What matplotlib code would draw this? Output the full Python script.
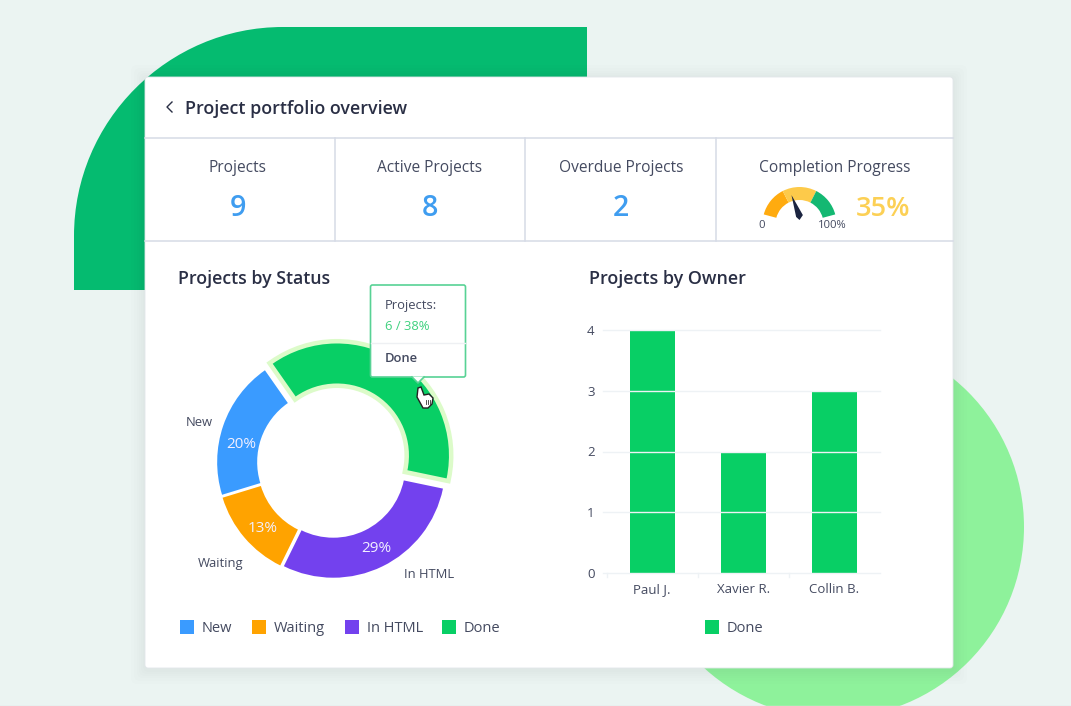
#!/usr/bin/python3

from matplotlib import pyplot as plt
from matplotlib.patches import Circle, FancyBboxPatch, PathPatch, Polygon, Rectangle, Wedge
from matplotlib.path import Path
import numpy as np

plt.rcParams['font.family'] = ['Open Sans', 'DejaVu Sans']

W, H = 1071, 706

kpi_labels = ['Projects', 'Active Projects', 'Overdue Projects']
kpi_values = ['9', '8', '2']
gauge_value = 35

status_labels = ['New', 'Waiting', 'In HTML', 'Done']
status_values = [20, 13, 29, 38]
status_colors = ['#3a9bff', '#ffa300', '#7341ee', '#08cf65']

owners = ['Paul J.', 'Xavier R.', 'Collin B.']
owner_done = [4, 2, 3]
owner_ticks = [0, 1, 2, 3, 4]

DARK = '#444a60'
TITLE = '#2a2f45'
LINE = '#d6dbe6'
GREEN = '#08cf65'


def px_axes(fig, x0, y0, x1, y1, **kw):
  # axes placed with pixel coordinates measured from the top left corner
  return fig.add_axes([x0 / W, 1 - y1 / H, (x1 - x0) / W, (y1 - y0) / H], **kw)


fig = plt.figure(figsize=(W / 100, H / 100), dpi=100, facecolor='#ebf4f2')

# background shapes and card
bg = px_axes(fig, 0, 0, W, H, zorder=0)
bg.set_xlim(0, W)
bg.set_ylim(H, 0)
bg.axis('off')

r, k = 209, 115
verts = [(74, 290), (74, 27 + r), (74, 27 + r - k), (74 + r - k, 27), (74 + r, 27), (587, 27), (587, 290), (74, 290)]
codes = [Path.MOVETO, Path.LINETO, Path.CURVE4, Path.CURVE4, Path.CURVE4, Path.LINETO, Path.LINETO, Path.CLOSEPOLY]
bg.add_patch(PathPatch(Path(verts, codes), fc='#05bb70', ec='none'))
bg.add_patch(Circle((833, 527), 191, fc='#8ef29b', ec='none'))
bg.plot([0, W], [705.5, 705.5], color='#dfe3e6', lw=1)

for grow in [14, 11, 8, 6, 4, 2]:
  bg.add_patch(FancyBboxPatch((145 - grow, 77 - grow + 2), 808 + 2 * grow, 591 + 2 * grow,
                              boxstyle='round,pad=0,rounding_size=6', fc='#1a2a40', ec='none', alpha=0.008))
bg.add_patch(FancyBboxPatch((145, 77), 808, 591, boxstyle='round,pad=0,rounding_size=3', fc='white', ec='#e2e6ea', lw=0.6))

bg.plot([145, 953], [138, 138], color=LINE, lw=1.1)
bg.plot([145, 953], [241, 241], color=LINE, lw=1.1)
for x in [335, 525, 716]:
  bg.plot([x, x], [138, 241], color=LINE, lw=1.1)

# donut, data units are pixels here
ax = px_axes(fig, 192, 323, 472, 603, zorder=1)
ax.set_facecolor('none')
explode = [3, 3, 3, 9]
wedges, _ = ax.pie(status_values, colors=status_colors, startangle=125, explode=explode, radius=112,
                   wedgeprops={'width': 40, 'linewidth': 0})
done = wedges[3]
ax.add_patch(Wedge(done.center, done.r, done.theta1, done.theta2, width=40, fc='#dcfbc9', ec='#dcfbc9',
                   lw=6.5, zorder=done.get_zorder() - 0.5))
ax.set_xlim(-140, 140)
ax.set_ylim(-140, 140)
ax.set_aspect('equal')
ax.axis('off')

# bars
bx = px_axes(fig, 603, 330, 880, 573, zorder=1)
bx.set_facecolor('none')
bx.bar(range(len(owners)), owner_done, width=0.495, color=GREEN, zorder=2)
bx.set_xlim(-0.54, 2.5)
bx.set_ylim(0, 4)
bx.set_yticks(owner_ticks)
bx.set_xticks(range(len(owners)))
bx.set_xticklabels(owners)
bx.tick_params(axis='both', length=0, labelsize=9.5, labelcolor=DARK)
bx.tick_params(axis='x', pad=7)
bx.tick_params(axis='y', pad=6)
for y in owner_ticks:
  bx.axhline(y, color='#eef2f5', lw=1, zorder=3, clip_on=False)
for s in bx.spines.values():
  s.set_visible(False)
for x in [-0.5, 0.5, 1.5]:
  bx.plot([x, x], [0, -0.06], color='#eef2f5', lw=1, clip_on=False)

# top layer for text and tooltip
top = px_axes(fig, 0, 0, W, H, zorder=2)
top.set_xlim(0, W)
top.set_ylim(H, 0)
top.axis('off')
top.patch.set_alpha(0)

top.plot([172, 167, 172], [102, 107, 112], color=TITLE, lw=1)
top.text(185, 109, 'Project portfolio overview', fontsize=12.85, fontweight=600, color=TITLE, va='center')
top.text(178, 279, 'Projects by Status', fontsize=12.8, fontweight=600, color=TITLE, va='center')
top.text(589, 279, 'Projects by Owner', fontsize=12.85, fontweight=600, color=TITLE, va='center')

for cx, label, value in zip([238, 430, 621], kpi_labels, kpi_values):
  top.text(cx, 168, label, fontsize=11.2, color=DARK, ha='center', va='center')
  top.text(cx, 209, value, fontsize=20.5, fontweight=600, color='#3f9df0', ha='center', va='center')
top.text(835, 168, 'Completion Progress', fontsize=11.2, color=DARK, ha='center', va='center')

# gauge, angles are flipped since the y axis points down
gc = (799.5, 224)
for a0, a1, col in [(165, 117, '#ffab0f'), (117, 63, '#fdca4a'), (63, 15, '#14b872')]:
  top.add_patch(Wedge(gc, 37, -a0, -a1, width=13, fc=col, ec='none'))
ang = np.radians(165 - gauge_value * 1.7)
tip = (gc[0] + 30 * np.cos(ang), gc[1] - 30 * np.sin(ang))
nx, ny = np.sin(ang), np.cos(ang)
top.add_patch(Polygon([tip, (gc[0] + 3.5 * nx, gc[1] - 8 + 3.5 * ny), (gc[0], gc[1] - 4),
                       (gc[0] - 3.5 * nx, gc[1] - 8 - 3.5 * ny)], fc='#1b2440', ec='none'))
top.text(762, 226, '0', fontsize=8.1, color=DARK, ha='center', va='center')
top.text(832.5, 226, '100%', fontsize=8.1, color=DARK, ha='center', va='center')
top.text(883, 209, f'{gauge_value}%', fontsize=19.5, fontweight=600, color='#fcd055', ha='center', va='center')

# donut texts
for (x, y), v in zip([(241, 445), (263, 529), (376, 549)], status_values[:3]):
  top.text(x, y, f'{v}%', fontsize=11, color='#f2f0ff', ha='center', va='center')
for (x, y), s in zip([(199, 423), (221, 564), (429, 574)], status_labels[:3]):
  top.text(x, y, s, fontsize=9.4, color=DARK, ha='center', va='center')

# legends
for x, s, c in zip([187, 259, 352, 449], status_labels, status_colors):
  top.add_patch(Rectangle((x - 7, 620), 14, 14, fc=c, ec='none'))
  top.text(x + 15, 629, s, fontsize=10.5, color=DARK, va='center')
top.add_patch(Rectangle((705, 620), 14, 14, fc=GREEN, ec='none'))
top.text(727, 629, status_labels[3], fontsize=10.5, color=DARK, va='center')

# tooltip
top.add_patch(FancyBboxPatch((370.5, 285), 95, 92, boxstyle='round,pad=0,rounding_size=2',
                             fc='white', ec='#58d295', lw=1.2, zorder=5))
top.add_patch(Polygon([(412, 376.5), (424, 376.5), (418, 383)], fc='white', ec='none', zorder=6))
top.plot([412, 418, 424], [377, 383, 377], color='#58d295', lw=1.2, zorder=6)
top.plot([371, 465], [343, 343], color='#eef0f3', lw=1, zorder=6)
top.text(385, 306, 'Projects:', fontsize=9.4, color=DARK, va='center', zorder=6)
top.text(385, 327, f'6 / {status_values[3]}%', fontsize=9.4, color='#3fd17f', va='center', zorder=6)
top.text(385, 359, status_labels[3], fontsize=9.4, fontweight=600, color=DARK, va='center', zorder=6)

# cursor
hand = [(418, 388), (421, 387), (424, 395), (429, 394), (433, 398), (432, 404), (428, 408), (423, 408), (417, 397)]
top.add_patch(Polygon(hand, fc='white', ec='#222222', lw=1, zorder=7))
for x in [425.5, 427.5, 429.5]:
  top.plot([x, x], [400, 404], color='#333333', lw=0.6, zorder=8)

fig.savefig('out.png', dpi=100, facecolor=fig.get_facecolor())
